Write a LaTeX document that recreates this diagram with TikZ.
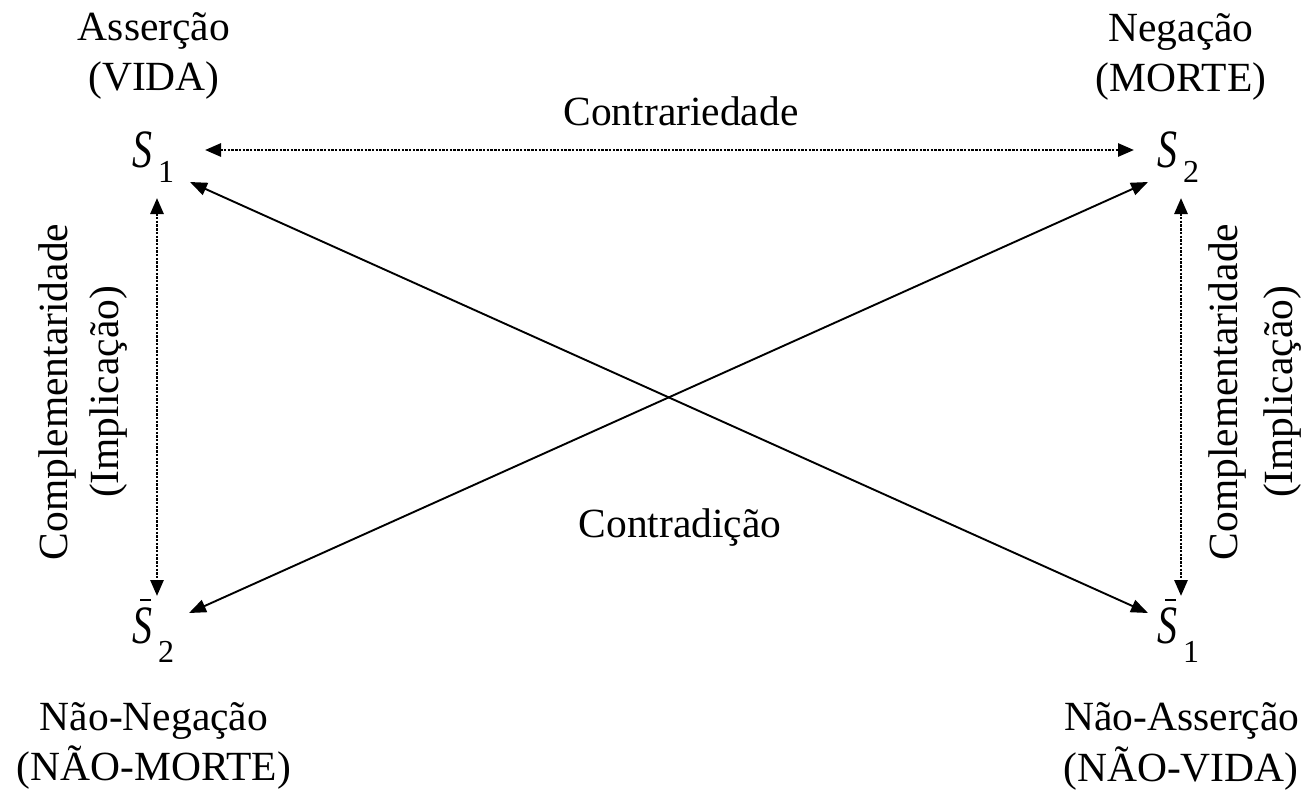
\documentclass[tikz,border=0pt]{standalone}
\usepackage{fontspec}
\usepackage{graphicx}
\setmainfont{Liberation Serif}
\usetikzlibrary{arrows.meta}
\newcommand\SymS[2]{{\fontsize{54}{54}\selectfont\scalebox{0.74}[1]{\itshape S}}\hspace{6pt}\raisebox{-15pt}{\fontsize{32}{32}\selectfont #2}}
\newcommand\SymBarS[2]{\makebox[0pt][l]{\hspace{8pt}\rule[42pt]{11pt}{1.8pt}}{\fontsize{54}{54}\selectfont\scalebox{0.74}[1]{\itshape S}}\hspace{6pt}\raisebox{-19pt}{\fontsize{32}{32}\selectfont #2}}
\begin{document}
\begin{tikzpicture}[x=1pt,y=-1pt,
  lbl/.style={inner sep=0pt, anchor=base, font=\fontsize{41.5}{50}\selectfont},
  vlbl/.style={lbl, rotate=90},
  sym/.style={inner sep=0pt, anchor=base west},
  dotarrow/.style={line width=2.8pt, dash pattern=on 2.4pt off 1.3pt, {Triangle[length=16pt,width=13pt]}-{Triangle[length=16pt,width=13pt]}},
  solarrow/.style={line width=1.9pt, {Triangle[length=17pt,width=13pt]}-{Triangle[length=17pt,width=13pt]}}]
\useasboundingbox (0,0) rectangle (1307,790);
\fill[white] (0,0) rectangle (1307,790);

% corner labels
\node[lbl] (a1) at (154,40) {Asserção};
\node[lbl] (a2) at (154,90) {(VIDA)};
\node[lbl] (n1) at (1181,41) {Negação};
\node[lbl] (n2) at (1181,91) {(MORTE)};
\node[lbl] (nn1) at (154,730) {Não-Negação};
\node[lbl] (nn2) at (154,780) {(NÃO-MORTE)};
\node[lbl] (na1) at (1182,730) {Não-Asserção};
\node[lbl] (na2) at (1181,781) {(NÃO-VIDA)};

% relation labels
\node[lbl] (contr) at (681,125) {Contrariedade};
\node[lbl] (contd) at (680,537) {Contradição};
\node[vlbl] (cl1) at (67,392) {Complementaridade};
\node[vlbl] (cl2) at (118,392) {(Implicação)};
\node[vlbl] (cr1) at (1237,392) {Complementaridade};
\node[vlbl] (cr2) at (1292,392) {(Implicação)};

% symbols
\node[sym] (s1) at (132,167) {\SymS{S}{1}};
\node[sym] (s2) at (1157,167) {\SymS{S}{2}};
\node[sym] (ns2) at (132,643) {\SymBarS{S}{2}};
\node[sym] (ns1) at (1157,643) {\SymBarS{S}{1}};

% connector end points
\coordinate (s1h) at (205,150);
\coordinate (s2h) at (1134,150);
\coordinate (s1v) at (157,198);
\coordinate (ns2v) at (157,596);
\coordinate (s2v) at (1181,198);
\coordinate (ns1v) at (1181,596);
\coordinate (s1d) at (190,182);
\coordinate (ns1d) at (1148,613);
\coordinate (s2d) at (1148,182);
\coordinate (ns2d) at (189,613);

\draw[dotarrow] (s1h) -- (s2h);
\draw[dotarrow] (s1v) -- (ns2v);
\draw[dotarrow] (s2v) -- (ns1v);
\draw[solarrow] (s1d) -- (ns1d);
\draw[solarrow] (s2d) -- (ns2d);
\end{tikzpicture}
\end{document}
